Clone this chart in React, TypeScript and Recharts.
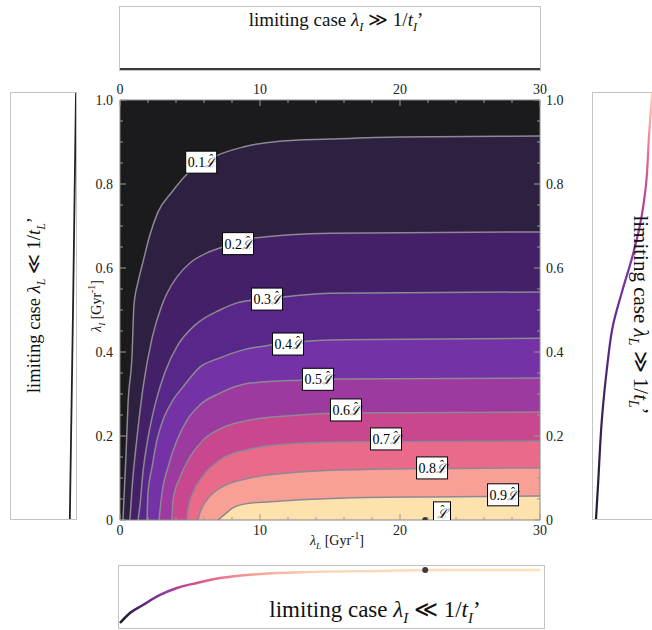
import React from "react";
import { ComposedChart, Area, Line, Scatter, XAxis, YAxis } from "recharts";

const serif = "'Liberation Serif', 'DejaVu Serif', serif";

// contour lines of L / L-hat: x = λL [Gyr^-1], y = λI [Gyr^-1]
const c1x = [0.21, 0.43, 0.57, 0.86, 1.0, 1.29, 1.64, 2.14, 2.71, 3.71, 4.79, 6.86, 8.79, 11.4, 15, 20, 30];
const c1y = [0, 0.155, 0.274, 0.393, 0.512, 0.567, 0.614, 0.679, 0.733, 0.781, 0.824, 0.867, 0.888, 0.902, 0.907, 0.912, 0.914];
const c2x = [0.71, 0.86, 1.21, 1.64, 2.29, 3.0, 3.36, 4.07, 5.0, 6.21, 7.36, 9.5, 15, 30];
const c2y = [0, 0.076, 0.195, 0.314, 0.433, 0.512, 0.54, 0.579, 0.612, 0.636, 0.65, 0.671, 0.683, 0.686];
const c3x = [1.29, 1.43, 1.64, 2.0, 2.5, 3.21, 4.14, 5.36, 7.14, 8.36, 9.5, 11.6, 15, 30];
const c3y = [0, 0.036, 0.114, 0.195, 0.274, 0.352, 0.417, 0.464, 0.5, 0.517, 0.524, 0.531, 0.54, 0.543];
const c4x = [1.93, 2.0, 2.29, 2.64, 3.07, 3.79, 4.5, 5.71, 7.14, 8.79, 10.9, 15.7, 30];
const c4y = [0, 0.064, 0.126, 0.19, 0.238, 0.286, 0.317, 0.364, 0.386, 0.405, 0.417, 0.429, 0.433];
const c5x = [2.79, 3.0, 3.43, 4.07, 4.79, 5.71, 7.14, 9.29, 12.9, 15.7, 30];
const c5y = [0, 0.064, 0.126, 0.19, 0.238, 0.274, 0.302, 0.326, 0.333, 0.336, 0.338];
const c6x = [3.71, 3.79, 4.29, 5.0, 5.93, 7.14, 9.29, 12.9, 15.7, 30];
const c6y = [0, 0.048, 0.102, 0.15, 0.19, 0.217, 0.238, 0.25, 0.255, 0.257];
const c7x = [4.79, 4.86, 5.21, 5.93, 7.14, 9.29, 12.9, 15.7, 30];
const c7y = [0, 0.024, 0.064, 0.105, 0.143, 0.169, 0.183, 0.186, 0.188];
const c8x = [5.57, 5.71, 6.21, 7.14, 9.29, 12.9, 15.7, 30];
const c8y = [0, 0.017, 0.048, 0.076, 0.1, 0.114, 0.119, 0.124];
const c9x = [7.0, 7.5, 8.07, 9.29, 10.5, 12.9, 15.7, 22, 30];
const c9y = [0, 0.014, 0.029, 0.04, 0.043, 0.048, 0.052, 0.055, 0.057];

const contourX = [c1x, c2x, c3x, c4x, c5x, c6x, c7x, c8x, c9x];
const contourY = [c1y, c2y, c3y, c4y, c5y, c6y, c7y, c8y, c9y];
const bandColors = ["#2d2040", "#432068", "#57288a", "#7432a6", "#9c3aa0", "#c8478f", "#ea6a8a", "#f8a096", "#fde2ad"];

// labels on the contours
const tagText = ["0.1", "0.2", "0.3", "0.4", "0.5", "0.6", "0.7", "0.8", "0.9", ""];
const tagX = [5.8, 8.43, 10.5, 12.0, 14.14, 16.14, 19.0, 22.29, 27.36, 23.0];
const tagY = [0.852, 0.658, 0.526, 0.419, 0.335, 0.262, 0.193, 0.124, 0.06, 0.017];

// marked point
const markX = [21.8];
const markY = [0];

// side panels
const topX = [0, 30];
const topV = [0, 0];
const leftLam = [0, 0.5, 1];
const leftU = [0.905, 0.955, 1.0];
const rightLam = [0, 0.08, 0.237, 0.355, 0.455, 0.533, 0.613, 0.69, 0.784, 0.901, 1.0];
const rightU = [0.044, 0.074, 0.132, 0.206, 0.294, 0.426, 0.574, 0.691, 0.779, 0.824, 0.868];
const bottomX = [0, 0.71, 1.64, 2.86, 4.07, 5.5, 7.14, 10, 13.6, 18.4, 21.8, 30];
const bottomV = [0.05, 0.217, 0.35, 0.517, 0.633, 0.717, 0.8, 0.867, 0.9, 0.917, 0.933, 0.933];
const bottomMarkX = [21.8];
const bottomMarkV = [0.933];

const xTicks = [0, 2, 4, 6, 8, 10, 12, 14, 16, 18, 20, 22, 24, 26, 28, 30];
const yTicks = [0, 0.05, 0.1, 0.15, 0.2, 0.25, 0.3, 0.35, 0.4, 0.45, 0.5, 0.55, 0.6, 0.65, 0.7, 0.75, 0.8, 0.85, 0.9, 0.95, 1];
const yMajor: Record<string, string> = { "0": "0", "0.2": "0.2", "0.4": "0.4", "0.6": "0.6", "0.8": "0.8", "1": "1.0" };

const contours = contourX.map((xs, i) => xs.map((x, j) => ({ x, y: contourY[i][j] })));
const background = [{ x: 0, y: 1 }, { x: 30, y: 1 }];
const tags = tagText.map((t, i) => ({ x: tagX[i], y: tagY[i], t }));
const marks = markX.map((x, i) => ({ x, y: markY[i] }));

const tickCol = "#9a9a9a";
const labelCol = "#222";
const txt = { fontFamily: serif };

function XTick(props: any) {
  const { x, y, payload, side } = props;
  const v = payload.value;
  const major = v % 10 === 0;
  const d = side === "bottom" ? -1 : 1;
  return (
    <g>
      <line x1={x} x2={x} y1={y} y2={y + d * (major ? 6 : 3)} stroke={tickCol} />
      {major && (
        <text x={x} y={side === "bottom" ? y + 15 : y - 6} textAnchor="middle" style={txt} fontSize={14} fill={labelCol}>
          {v}
        </text>
      )}
    </g>
  );
}

function YTick(props: any) {
  const { x, y, payload, side } = props;
  const lab = yMajor[String(payload.value)];
  const d = side === "left" ? 1 : -1;
  return (
    <g>
      <line x1={x} x2={x + d * (lab ? 6 : 3)} y1={y} y2={y} stroke={tickCol} />
      {lab && (
        <text x={side === "left" ? x - 7 : x + 6} y={y + 5} textAnchor={side === "left" ? "end" : "start"} style={txt} fontSize={14} fill={labelCol}>
          {lab}
        </text>
      )}
    </g>
  );
}

function Tag(props: any) {
  const { cx, cy, payload } = props;
  const hasNum = !!payload.t;
  const w = hasNum ? 31 : 17;
  return (
    <g>
      <rect x={cx - w / 2} y={cy - 11} width={w} height={22} fill="#fff" stroke="#000" strokeWidth={1} />
      <text x={cx - w / 2 + (hasNum ? 2 : 3)} y={cy + 5} style={txt} fontSize={14} fill="#000">
        {payload.t}
        <tspan fontStyle="italic" fontSize={13}>{"\u2112"}</tspan>
        <tspan dx={-7} dy={-4} fontSize={12}>{"\u02c6"}</tspan>
      </text>
    </g>
  );
}

function Mark(props: any) {
  const { cx, cy } = props;
  return <circle cx={cx} cy={cy} r={3} fill="#3c3c3c" />;
}

const Lam = ({ s }: { s: string }) => (
  <>
    <i>λ</i>
    <sub style={{ fontSize: "0.65em", fontStyle: "italic" }}>{s}</sub>
  </>
);

function Caption({ x, y, rot, size, children }: any) {
  return (
    <div
      style={{
        position: "absolute",
        left: x,
        top: y,
        transform: `translate(-50%, -50%) rotate(${rot || 0}deg)`,
        whiteSpace: "nowrap",
        fontFamily: serif,
        fontSize: size,
        color: "#111",
        lineHeight: 1,
      }}
    >
      {children}
    </div>
  );
}

function Panel({ left, top, w, h, children }: any) {
  return (
    <div
      style={{
        position: "absolute",
        left,
        top,
        width: w,
        height: h,
        boxSizing: "border-box",
        border: "1px solid #c4c4c4",
        background: "#fff",
      }}
    >
      {children}
    </div>
  );
}

export default function App() {
  const topData = topX.map((x, i) => ({ x, v: topV[i] }));
  const leftData = leftLam.map((lam, i) => ({ u: leftU[i], lam }));
  const rightData = rightLam.map((lam, i) => ({ u: rightU[i], lam }));
  const bottomData = bottomX.map((x, i) => ({ x, v: bottomV[i] }));
  const bottomMarks = bottomMarkX.map((x, i) => ({ x, v: bottomMarkV[i] }));

  return (
    <div style={{ position: "absolute", left: 0, top: 0, width: 652, height: 630, overflow: "hidden", background: "#fff" }}>
      <div style={{ position: "absolute", left: 0, top: 0 }}>
        <ComposedChart width={652} height={630} margin={{ top: 80, right: 82, bottom: 90, left: 90 }}>
          <XAxis xAxisId="b" dataKey="x" type="number" domain={[0, 30]} ticks={xTicks} interval={0} orientation="bottom" height={20}
            tickSize={0} tickMargin={0} tickLine={false} axisLine={{ stroke: "#8a8a8a" }} allowDataOverflow
            tick={(p: any) => <XTick {...p} side="bottom" />} />
          <XAxis xAxisId="t" dataKey="x" type="number" domain={[0, 30]} ticks={xTicks} interval={0} orientation="top" height={20}
            tickSize={0} tickMargin={0} tickLine={false} axisLine={{ stroke: "#8a8a8a" }} allowDataOverflow
            tick={(p: any) => <XTick {...p} side="top" />} />
          <YAxis yAxisId="l" dataKey="y" type="number" domain={[0, 1]} ticks={yTicks} interval={0} orientation="left" width={30}
            tickSize={0} tickMargin={0} tickLine={false} axisLine={{ stroke: "#8a8a8a" }} allowDataOverflow
            tick={(p: any) => <YTick {...p} side="left" />} />
          <YAxis yAxisId="r" dataKey="y" type="number" domain={[0, 1]} ticks={yTicks} interval={0} orientation="right" width={30}
            tickSize={0} tickMargin={0} tickLine={false} axisLine={{ stroke: "#8a8a8a" }} allowDataOverflow
            tick={(p: any) => <YTick {...p} side="right" />} />
          <Area xAxisId="b" yAxisId="l" data={background} dataKey="y" type="linear" fill="#1b1a1d" fillOpacity={1} stroke="none" isAnimationActive={false} />
          {contours.map((d, i) => (
            <Area key={i} xAxisId="b" yAxisId="l" data={d} dataKey="y" type="monotone" fill={bandColors[i]} fillOpacity={1}
              stroke="#8e8894" strokeWidth={1.5} isAnimationActive={false} />
          ))}
          <Scatter xAxisId="b" yAxisId="l" data={marks} dataKey="y" shape={<Mark />} isAnimationActive={false} />
          <Scatter xAxisId="b" yAxisId="l" data={tags} dataKey="y" shape={<Tag />} isAnimationActive={false} />
        </ComposedChart>
      </div>

      <Caption x={337} y={541} size={14}>
        <Lam s="L" /> [Gyr<sup style={{ fontSize: "0.7em" }}>-1</sup>]
      </Caption>
      <Caption x={97} y={306} rot={-90} size={14}>
        <Lam s="I" /> [Gyr<sup style={{ fontSize: "0.7em" }}>-1</sup>]
      </Caption>

      <Panel left={119} top={6} w={422} h={65}>
        <ComposedChart width={420} height={63} margin={{ top: 0, right: 0, bottom: 1, left: 0 }} data={topData}>
          <XAxis dataKey="x" type="number" domain={[0, 30]} hide />
          <YAxis type="number" domain={[0, 1]} hide />
          <Line dataKey="v" type="linear" stroke="#3a3a3a" strokeWidth={2} dot={false} isAnimationActive={false} />
        </ComposedChart>
      </Panel>
      <Caption x={336} y={22} size={19}>
        limiting case <Lam s="I" /> ≫ 1/<i>t</i><sub style={{ fontSize: "0.65em", fontStyle: "italic" }}>I</sub>’
      </Caption>

      <Panel left={10} top={92} w={67} h={428}>
        <ComposedChart width={65} height={426} margin={{ top: 0, right: 0, bottom: 0, left: 0 }} data={leftData}>
          <XAxis dataKey="u" type="number" domain={[0, 1]} hide />
          <YAxis type="number" domain={[0, 1]} hide />
          <Line dataKey="lam" type="linear" stroke="#222" strokeWidth={1.8} dot={false} isAnimationActive={false} />
        </ComposedChart>
      </Panel>
      <Caption x={36} y={305} rot={-90} size={18.5}>
        limiting case <Lam s="L" /> ≪ 1/<i>t</i><sub style={{ fontSize: "0.65em", fontStyle: "italic" }}>L</sub>’
      </Caption>

      <Panel left={592} top={92} w={70} h={428}>
        <ComposedChart width={68} height={426} margin={{ top: 0, right: 0, bottom: 0, left: 0 }} data={rightData}>
          <defs>
            <linearGradient id="gradR" x1="0" y1="1" x2="0" y2="0">
              <stop offset="0" stopColor="#221b2c" />
              <stop offset="0.25" stopColor="#3b2159" />
              <stop offset="0.42" stopColor="#5c2a8c" />
              <stop offset="0.58" stopColor="#7b32a5" />
              <stop offset="0.74" stopColor="#b5428f" />
              <stop offset="0.84" stopColor="#e2628d" />
              <stop offset="0.93" stopColor="#f5a4a0" />
              <stop offset="1" stopColor="#fad8b8" />
            </linearGradient>
          </defs>
          <XAxis dataKey="u" type="number" domain={[0, 1]} hide />
          <YAxis type="number" domain={[0, 1]} hide />
          <Line dataKey="lam" type="monotoneY" stroke="url(#gradR)" strokeWidth={2.2} dot={false} isAnimationActive={false} />
        </ComposedChart>
      </Panel>
      <Caption x={639} y={315} rot={90} size={21}>
        limiting case <Lam s="L" /> ≫ 1/<i>t</i><sub style={{ fontSize: "0.65em", fontStyle: "italic" }}>L</sub>’
      </Caption>

      <Panel left={118} top={565} w={427} h={64}>
        <ComposedChart width={425} height={62} margin={{ top: 0, right: 4, bottom: 2, left: 1 }}>
          <defs>
            <linearGradient id="gradB" x1="0" y1="0" x2="1" y2="0">
              <stop offset="0" stopColor="#1c1a22" />
              <stop offset="0.05" stopColor="#552478" />
              <stop offset="0.1" stopColor="#8a36a2" />
              <stop offset="0.15" stopColor="#c0458f" />
              <stop offset="0.22" stopColor="#e8688b" />
              <stop offset="0.33" stopColor="#f4a898" />
              <stop offset="0.48" stopColor="#f9d6bb" />
              <stop offset="1" stopColor="#fde3b4" />
            </linearGradient>
          </defs>
          <XAxis dataKey="x" type="number" domain={[0, 30]} hide />
          <YAxis dataKey="v" type="number" domain={[0, 1]} hide />
          <Line data={bottomData} dataKey="v" type="monotone" stroke="url(#gradB)" strokeWidth={2.5} dot={false} isAnimationActive={false} />
          <Scatter data={bottomMarks} dataKey="v" shape={<Mark />} isAnimationActive={false} />
        </ComposedChart>
      </Panel>
      <Caption x={375} y={612} size={23}>
        limiting case <Lam s="I" /> ≪ 1/<i>t</i><sub style={{ fontSize: "0.65em", fontStyle: "italic" }}>I</sub>’
      </Caption>
    </div>
  );
}
